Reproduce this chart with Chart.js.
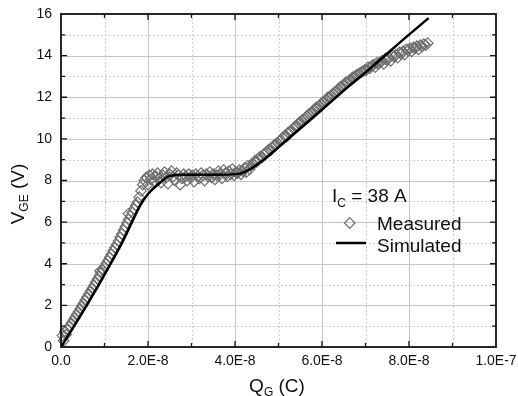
<!DOCTYPE html>
<html>
  <head>
    <meta charset="utf-8" />
    <script src="https://cdn.jsdelivr.net/npm/chart.js@4"></script>
    <style>
      body { margin: 0; background: #fff; }
    </style>
  </head>
  <body>
    <canvas id="gateChart" width="518" height="396"></canvas>
    <script>
      // gate charge in nC, gate voltage in V
      const measuredQ = [
        0.3, 0.6, 0.9, 1.2, 1.6,
        2.0, 2.4, 2.8, 3.2, 3.6, 4.0, 4.4, 4.8, 5.2, 5.6, 6.0, 6.4, 6.8, 7.2, 7.6,
        8.0, 8.4, 8.8, 9.0, 9.2, 9.6, 10.0, 10.4, 10.8, 11.2, 11.6, 12.0, 12.4, 12.8,
        13.2, 13.6, 14.0, 14.4, 14.8, 15.2, 15.5, 15.6, 16.0, 16.4, 16.8, 17.2, 17.6,
        18.0, 18.4, 18.8, 19.2,
        19.6, 20.0, 20.3, 20.6, 21.0, 21.4, 21.8, 22.2, 22.6, 23.0, 23.4, 23.8, 24.2,
        24.6, 25.0, 25.4, 25.8, 26.2, 26.6, 27.0, 27.4, 27.8, 28.2, 28.6, 29.0, 29.4,
        29.8, 30.2, 30.6, 31.0, 31.4, 31.8, 32.2, 32.6, 33.0, 33.4, 33.8, 34.2, 34.6,
        35.0, 35.4, 35.8, 36.2, 36.6, 37.0, 37.4, 37.8, 38.2, 38.6, 39.0, 39.4, 39.8,
        40.2, 40.6, 41.0, 41.4, 41.8, 42.2, 42.6, 43.0, 43.4, 43.8,
        44.2, 44.6, 45.0, 45.4, 45.8, 46.2, 46.6, 47.0, 47.4, 47.8, 48.2, 48.6, 49.0,
        49.4, 49.8, 50.2, 50.6, 51.0, 51.4, 51.8, 52.2, 52.6, 53.0, 53.4, 53.8, 54.2,
        54.6, 55.0, 55.4, 55.8, 56.2, 56.6, 57.0, 57.4, 57.8, 58.2, 58.6, 59.0, 59.4,
        59.8, 60.2, 60.6, 61.0, 61.4, 61.8, 62.2, 62.6, 63.0, 63.4, 63.8, 64.2, 64.6,
        65.0, 65.4, 65.8, 66.2, 66.6, 67.0, 67.4, 67.8, 68.2, 68.6, 69.0, 69.4, 69.8,
        70.2, 70.6, 71.0, 71.4, 71.8, 72.2, 72.6, 73.0, 73.4, 73.8, 74.2, 74.6, 75.0,
        75.4, 75.8, 76.2, 76.6, 77.0, 77.4, 77.8, 78.2, 78.6, 79.0, 79.4, 79.8, 80.2,
        80.6, 81.0, 81.4, 81.8, 82.2, 82.6, 83.0, 83.4, 83.8, 84.3
      ];
      const measuredV = [
        0.55, 0.3, 0.75, 0.6, 0.85,
        1.0, 1.14, 1.28, 1.41, 1.55, 1.69, 1.83, 1.97, 2.1, 2.25, 2.39, 2.54, 2.68, 2.82, 2.96,
        3.11, 3.26, 3.4, 3.65, 3.56, 3.7, 3.85, 4.0, 4.15, 4.3, 4.46, 4.62, 4.77, 4.92,
        5.09, 5.26, 5.43, 5.61, 5.78, 5.96, 6.4, 6.13, 6.3, 6.46, 6.63, 6.8, 6.96,
        7.2, 7.5, 7.8, 8.0,
        8.15, 7.8, 8.25, 8.05, 8.3, 7.95, 8.2, 8.35, 8.1, 7.9, 8.25, 8.4, 8.15,
        7.85, 8.3, 8.45, 8.2, 8.0, 8.35, 8.25, 7.8, 8.1, 8.3, 8.2, 8.0, 8.3,
        8.15, 8.25, 7.95, 8.3, 8.2, 8.1, 8.35, 8.25, 8.0, 8.3, 8.2, 8.4, 8.15,
        8.3, 8.05, 8.25, 8.45, 8.3, 8.1, 8.5, 8.35, 8.2, 8.45, 8.3, 8.55, 8.25,
        8.4, 8.35, 8.5, 8.3, 8.45, 8.6, 8.4, 8.7, 8.55, 8.75,
        8.8, 8.95, 8.9, 9.05, 9.15, 9.1, 9.25, 9.3, 9.4, 9.5, 9.45, 9.6, 9.7,
        9.75, 9.8, 9.9, 9.95, 10.05, 10.15, 10.1, 10.3, 10.35, 10.4, 10.5, 10.6, 10.6,
        10.75, 10.8, 10.9, 10.95, 11.0, 11.1, 11.2, 11.25, 11.3, 11.4, 11.5, 11.5, 11.6,
        11.7, 11.75, 11.8, 11.9, 12.0, 12.0, 12.1, 12.2, 12.25, 12.3, 12.4, 12.5, 12.5,
        12.6, 12.7, 12.7, 12.8, 12.85, 12.95, 12.95, 13.05, 13.1, 13.15, 13.2, 13.25, 13.3,
        13.3, 13.45, 13.4, 13.5, 13.55, 13.45, 13.65, 13.6, 13.7, 13.75, 13.6, 13.85, 13.8,
        13.9, 13.75, 14.0, 13.95, 14.05, 13.9, 14.15, 14.1, 14.2, 14.05, 14.3, 14.25, 14.35,
        14.2, 14.4, 14.35, 14.45, 14.3, 14.5, 14.45, 14.55, 14.5, 14.6
      ];
      const simulatedQ = [0, 3, 5.9, 8.7, 11.4, 14.0, 16.3, 18.2, 20.0, 22.8, 25.0, 28, 32, 37, 41, 43.5, 46.5, 50, 55, 60, 66, 72, 78, 84.5];
      const simulatedV = [0, 1.0, 2.0, 3.0, 4.0, 5.0, 6.0, 6.8, 7.35, 7.9, 8.22, 8.28, 8.28, 8.28, 8.33, 8.55, 8.98, 9.6, 10.5, 11.4, 12.5, 13.55, 14.65, 15.8];

      const xTickLabels = ["0.0", "2.0E-8", "4.0E-8", "6.0E-8", "8.0E-8", "1.0E-7"];
      const yTickLabels = ["0", "2", "4", "6", "8", "10", "12", "14", "16"];
      const legendTitle = { main: "I", sub: "C", rest: " = 38 A" };

      const fontFamily = '"Liberation Sans", Arial, sans-serif';

      // text runs with subscripts, drawn left to right from x on one baseline
      function drawRuns(ctx, runs, x, y) {
        runs.forEach((r) => {
          ctx.font = r.size + "px " + fontFamily;
          ctx.fillText(r.text, x, y + (r.dy || 0));
          x += ctx.measureText(r.text).width;
        });
        return x;
      }
      function runsWidth(ctx, runs) {
        let w = 0;
        runs.forEach((r) => {
          ctx.font = r.size + "px " + fontFamily;
          w += ctx.measureText(r.text).width;
        });
        return w;
      }

      const originStyle = {
        id: "originStyle",
        beforeDatasetsDraw(chart) {
          const { ctx, chartArea: a, scales } = chart;
          ctx.save();
          ctx.lineWidth = 1;
          for (let q = 10; q < 100; q += 10) {
            const px = Math.round(scales.x.getPixelForValue(q)) + 0.5;
            const major = q % 20 === 0;
            ctx.strokeStyle = major ? "#c4c4c4" : "#cfcfcf";
            ctx.setLineDash(major ? [] : [2, 2]);
            ctx.beginPath();
            ctx.moveTo(px, a.top);
            ctx.lineTo(px, a.bottom);
            ctx.stroke();
          }
          for (let v = 1; v < 16; v++) {
            const py = Math.round(scales.y.getPixelForValue(v)) + 0.5;
            const major = v % 2 === 0;
            ctx.strokeStyle = major ? "#c4c4c4" : "#cfcfcf";
            ctx.setLineDash(major ? [] : [2, 2]);
            ctx.beginPath();
            ctx.moveTo(a.left, py);
            ctx.lineTo(a.right, py);
            ctx.stroke();
          }
          ctx.restore();
        },
        afterDatasetsDraw(chart) {
          const { ctx, chartArea: a, scales } = chart;
          ctx.save();
          ctx.strokeStyle = "#111";
          ctx.lineWidth = 1.8;
          ctx.strokeRect(a.left, a.top, a.right - a.left, a.bottom - a.top);
          ctx.lineWidth = 1.3;
          for (let q = 10; q < 100; q += 10) {
            const px = scales.x.getPixelForValue(q);
            const len = q % 20 === 0 ? 6 : 4;
            ctx.beginPath();
            ctx.moveTo(px, a.bottom);
            ctx.lineTo(px, a.bottom - len);
            ctx.moveTo(px, a.top);
            ctx.lineTo(px, a.top + len);
            ctx.stroke();
          }
          for (let v = 1; v < 16; v++) {
            const py = scales.y.getPixelForValue(v);
            const len = v % 2 === 0 ? 6 : 4;
            ctx.beginPath();
            ctx.moveTo(a.left, py);
            ctx.lineTo(a.left + len, py);
            ctx.moveTo(a.right, py);
            ctx.lineTo(a.right - len, py);
            ctx.stroke();
          }
          ctx.restore();
        },
        afterDraw(chart) {
          const { ctx } = chart;
          ctx.save();
          ctx.fillStyle = "#111";
          ctx.textBaseline = "alphabetic";
          ctx.textAlign = "left";

          // x axis title
          const xRuns = [
            { text: "Q", size: 19 },
            { text: "G", size: 12, dy: 4 },
            { text: " (C)", size: 19 },
          ];
          const xw = runsWidth(ctx, xRuns);
          drawRuns(ctx, xRuns, 277 - xw / 2, 392);

          // y axis title, rotated
          const yRuns = [
            { text: "V", size: 19 },
            { text: "GE", size: 12, dy: 4 },
            { text: " (V)", size: 19 },
          ];
          const yw = runsWidth(ctx, yRuns);
          ctx.save();
          ctx.translate(24, 194);
          ctx.rotate(-Math.PI / 2);
          drawRuns(ctx, yRuns, -yw / 2, 0);
          ctx.restore();

          // legend
          drawRuns(ctx, [
            { text: legendTitle.main, size: 19 },
            { text: legendTitle.sub, size: 12, dy: 5 },
            { text: legendTitle.rest, size: 19 },
          ], 332, 202);
          ctx.font = "19px " + fontFamily;
          ctx.fillText(chart.data.datasets[1].label, 377, 229.5);
          ctx.fillText(chart.data.datasets[0].label, 377, 251.5);

          ctx.strokeStyle = "#6e6e6e";
          ctx.lineWidth = 1.2;
          ctx.beginPath();
          ctx.moveTo(349.7, 217.7);
          ctx.lineTo(355, 223);
          ctx.lineTo(349.7, 228.3);
          ctx.lineTo(344.4, 223);
          ctx.closePath();
          ctx.stroke();

          ctx.strokeStyle = "#000";
          ctx.lineWidth = 2.5;
          ctx.beginPath();
          ctx.moveTo(336, 243);
          ctx.lineTo(366, 243);
          ctx.stroke();
          ctx.restore();
        },
      };

      const ctx = document.getElementById("gateChart").getContext("2d");
      new Chart(ctx, {
        type: "scatter",
        data: {
          datasets: [
            {
              label: "Simulated",
              type: "line",
              data: simulatedQ.map((q, i) => ({ x: q, y: simulatedV[i] })),
              borderColor: "#000",
              borderWidth: 2.5,
              pointRadius: 0,
              cubicInterpolationMode: "monotone",
              fill: false,
              order: 0,
            },
            {
              label: "Measured",
              data: measuredQ.map((q, i) => ({ x: q, y: measuredV[i] })),
              pointStyle: "rectRot",
              pointRadius: 5.3,
              pointBorderWidth: 1.2,
              pointBorderColor: "#6e6e6e",
              pointBackgroundColor: "rgba(255,255,255,0)",
              clip: false,
              order: 1,
            },
          ],
        },
        options: {
          responsive: false,
          animation: false,
          devicePixelRatio: 1,
          layout: { padding: { left: 0, right: 22, top: 14, bottom: 0 } },
          plugins: {
            legend: { display: false },
            tooltip: { enabled: false },
          },
          scales: {
            x: {
              type: "linear",
              min: 0,
              max: 100,
              grid: { display: false, drawTicks: false },
              border: { display: false },
              afterFit: (s) => {
                s.height = 49;
                s.paddingLeft = 0;
                s.paddingRight = 0;
              },
              ticks: {
                stepSize: 20,
                padding: 6,
                color: "#111",
                font: { family: fontFamily, size: 14 },
                maxRotation: 0,
                callback: (v, i) => xTickLabels[i],
              },
            },
            y: {
              type: "linear",
              min: 0,
              max: 16,
              grid: { display: false, drawTicks: false },
              border: { display: false },
              afterFit: (s) => {
                s.width = 61;
                s.paddingTop = 0;
                s.paddingBottom = 0;
              },
              ticks: {
                stepSize: 2,
                padding: 9,
                color: "#111",
                font: { family: fontFamily, size: 14 },
                callback: (v, i) => yTickLabels[i],
              },
            },
          },
        },
        plugins: [originStyle],
      });
    </script>
  </body>
</html>
